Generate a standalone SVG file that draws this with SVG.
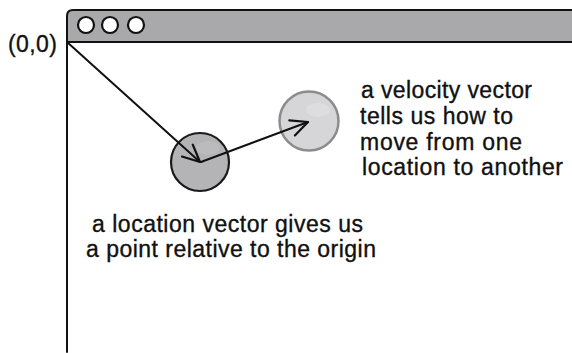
<svg xmlns="http://www.w3.org/2000/svg" width="572" height="353" viewBox="0 0 572 353">
<style>
.t{font-family:"Liberation Sans",Arial,sans-serif;font-size:23px;fill:#111;stroke:#111;stroke-width:0.35}
.ln{stroke:#111;stroke-width:2;fill:none;stroke-linecap:round}
.btn{fill:#fff;stroke:#111;stroke-width:2.2}
</style>
<defs>
<marker id="ah" markerUnits="userSpaceOnUse" markerWidth="24" markerHeight="24" viewBox="-20 -12 24 24" refX="0" refY="0" orient="auto">
<path d="M-17,-8 L0,0 L-17,8" fill="none" stroke="#111" stroke-width="2.2" stroke-linecap="round" stroke-linejoin="round"/>
</marker>
</defs>
<rect width="572" height="353" fill="#fff"/>
<g id="window">
<path d="M67,42 L67,16 Q67,10 73,10 L572,10 L572,42 Z" fill="#a9a9ac"/>
<path d="M67,352 L67,16 Q67,10 73,10 L572,10" class="ln" stroke-width="2.4"/>
<path d="M67,42 L572,42" class="ln" stroke-width="2.4"/>
<circle class="btn" cx="86" cy="25" r="8"/>
<circle class="btn" cx="110" cy="25" r="8"/>
<circle class="btn" cx="136" cy="25" r="8"/>
</g>
<g id="origin-label">
<text class="t" x="8" y="52" font-size="22" textLength="49" lengthAdjust="spacing">(0,0)</text>
</g>
<g id="location-circle">
<circle cx="200" cy="162" r="29" fill="#b4b4b6" stroke="#1a1a1a" stroke-width="2.2"/>
<ellipse cx="208" cy="148" rx="12" ry="7" fill="#bdbdbf" opacity="0.7"/>
</g>
<g id="velocity-circle">
<circle cx="309" cy="121" r="29.5" fill="#d6d6d8" stroke="#8c8c8e" stroke-width="2.5"/>
<ellipse cx="318" cy="110" rx="12" ry="7" fill="#dfdfe1" opacity="0.8"/>
</g>
<g id="connectors">
<line x1="67" y1="42" x2="200" y2="162" class="ln" marker-end="url(#ah)"/>
<line x1="201" y1="162" x2="308" y2="122" class="ln" marker-end="url(#ah)"/>
</g>
<g id="velocity-label">
<text class="t" x="361" y="98" textLength="171" lengthAdjust="spacing">a velocity vector</text>
<text class="t" x="360" y="124" textLength="153" lengthAdjust="spacing">tells us how to</text>
<text class="t" x="360" y="150" textLength="162" lengthAdjust="spacing">move from one</text>
<text class="t" x="362" y="175" textLength="201" lengthAdjust="spacing">location to another</text>
</g>
<g id="location-label">
<text class="t" x="92" y="232" textLength="271" lengthAdjust="spacing">a location vector gives us</text>
<text class="t" x="86" y="257" textLength="290" lengthAdjust="spacing">a point relative to the origin</text>
</g>
</svg>
